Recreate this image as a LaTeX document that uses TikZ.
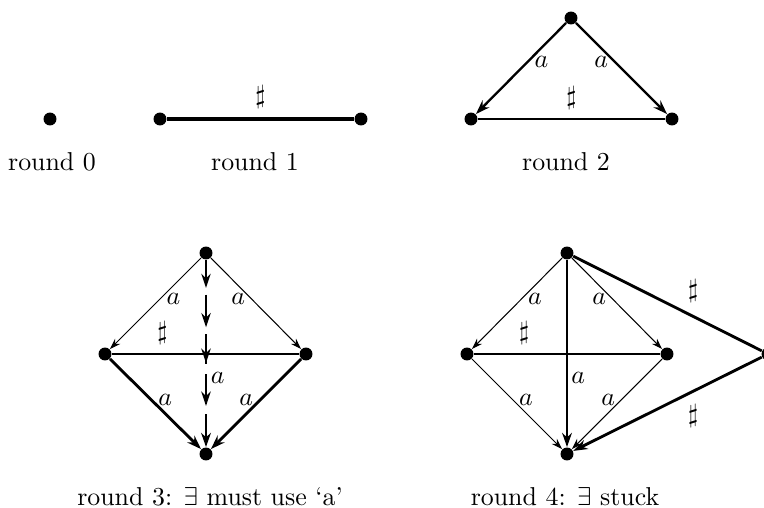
\documentclass[tikz,border=0pt]{standalone}
\usetikzlibrary{arrows.meta,decorations.markings}

\tikzset{
  dot/.style={circle,fill,inner sep=0pt,minimum size=5pt},
  thinedge/.style={-{Stealth[length=4.2pt,width=2.8pt]},line width=.4pt},
  thickedge/.style={->,line width=1.1pt},
  marked/.style={line width=1.1pt,dash pattern=on 11.5pt off 3.9pt,dash phase=2pt,
    postaction={decorate,decoration={markings,
      mark=at position .15 with {\arrow{Stealth[length=5.5pt,width=3.6pt]}},
      mark=at position .36 with {\arrow{Stealth[length=5.5pt,width=3.6pt]}},
      mark=at position .55 with {\arrow{Stealth[length=5.5pt,width=3.6pt]}},
      mark=at position .78 with {\arrow{Stealth[length=5.5pt,width=3.6pt]}}}}},
}

\begin{document}
\begin{tikzpicture}[>={Stealth[length=5.5pt,width=3.8pt]}, x=1.359cm, y=-1.359cm]
  \useasboundingbox (0,0) rectangle (7.64,5.07);

  % round 0
  \node[dot] (z) at (.50,1.19) {};
  \node (lz) at (.52,1.62) {round 0};

  % round 1
  \node[dot] (oa) at (1.60,1.19) {};
  \node[dot] (ob) at (3.61,1.19) {};
  \draw[line width=1.5pt] (oa) -- node[above] {$\sharp$} (ob);
  \node (lo) at (2.55,1.62) {round 1};

  % round 2
  \node[dot] (tt) at (5.71,.18) {};
  \node[dot] (tl) at (4.71,1.19) {};
  \node[dot] (tr) at (6.72,1.19) {};
  \draw[->,line width=.9pt] (tt) -- node[pos=.43,right=-1pt] {$a$} (tl);
  \draw[->,line width=.9pt] (tt) -- node[pos=.43,left=-1pt] {$a$} (tr);
  \draw[line width=.7pt] (tl) -- node[above] {$\sharp$} (tr);
  \node (lt) at (5.66,1.62) {round 2};

  % round 3
  \node[dot] (ht) at (2.06,2.53) {};
  \node[dot] (hl) at (1.05,3.54) {};
  \node[dot] (hr) at (3.06,3.54) {};
  \node[dot] (hb) at (2.06,4.54) {};
  \draw[thinedge] (ht) -- node[pos=.45,right=-1pt] {$a$} (hl);
  \draw[thinedge] (ht) -- node[pos=.45,left=-1pt] {$a$} (hr);
  \draw[line width=.8pt] (hl) -- node[pos=.27,above] {$\sharp$} (hr);
  \draw[thickedge] (hl) -- node[pos=.45,right=-1pt] {$a$} (hb);
  \draw[thickedge] (hr) -- node[pos=.45,left=-1pt] {$a$} (hb);
  \draw[marked,->] (ht) -- node[pos=.63,right=-2pt] {$a$} (hb);
  \node (lh) at (2.10,4.97) {round 3: $\exists$ must use `a'};

  % round 4
  \node[dot] (ft) at (5.67,2.53) {};
  \node[dot] (fl) at (4.67,3.54) {};
  \node[dot] (fr) at (6.67,3.54) {};
  \node[dot] (fb) at (5.67,4.54) {};
  \node[dot] (fx) at (7.68,3.54) {};
  \draw[thinedge] (ft) -- node[pos=.45,right=-1pt] {$a$} (fl);
  \draw[thinedge] (ft) -- node[pos=.45,left=-1pt] {$a$} (fr);
  \draw[line width=.8pt] (fl) -- node[pos=.27,above] {$\sharp$} (fr);
  \draw[->,line width=.8pt] (ft) -- node[pos=.63,right=-2pt] {$a$} (fb);
  \draw[thinedge] (fl) -- node[pos=.45,right=-1pt] {$a$} (fb);
  \draw[thinedge] (fr) -- node[pos=.45,left=-1pt] {$a$} (fb);
  \draw[line width=1.1pt] (ft) -- node[pos=.57,above right=-1pt] {$\sharp$} (fx);
  \draw[thickedge] (fx) -- node[pos=.43,below right=-1pt] {$\sharp$} (fb);
  \node (lf) at (5.65,4.97) {round 4: $\exists$ stuck};
\end{tikzpicture}
\end{document}
